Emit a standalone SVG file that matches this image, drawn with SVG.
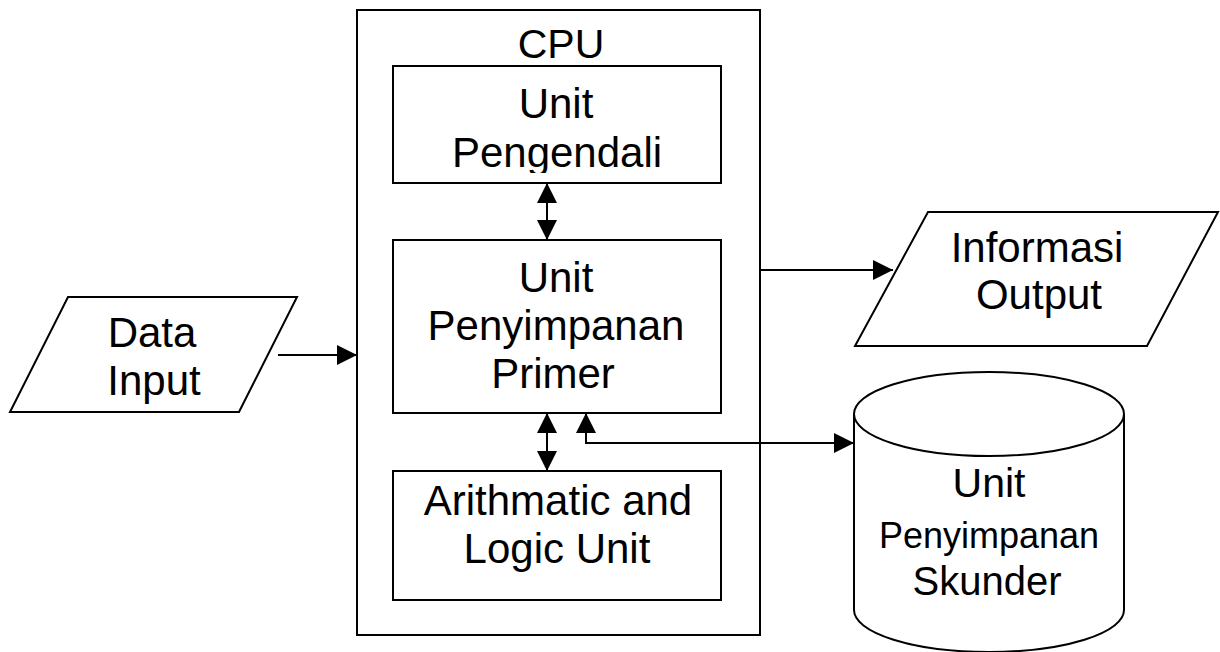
<svg xmlns="http://www.w3.org/2000/svg" width="1220" height="652" viewBox="0 0 1220 652">
<style>
.s{fill:#fff;stroke:#000;stroke-width:2}
.t{font-family:"Liberation Sans",Arial,sans-serif;font-size:42px;fill:#000;text-anchor:middle}
.c{fill:none;stroke:#000;stroke-width:2}
</style>
<defs>
<marker id="b" viewBox="0 0 20 20" refX="20" refY="10" markerWidth="20" markerHeight="20" markerUnits="userSpaceOnUse" orient="auto-start-reverse"><path d="M0,0 L20,10 L0,20 z" fill="#000"/></marker>
<clipPath id="pc"><rect x="393" y="66" width="328" height="107"/></clipPath>
</defs>
<g id="cpu"><rect class="s" x="357" y="10" width="403" height="625"/><text class="t" x="561" y="58" style="font-size:41px">CPU</text></g>
<g id="pengendali"><rect class="s" x="393" y="66" width="328" height="117"/><text class="t" x="556" y="118">Unit</text><text class="t" x="557" y="167" clip-path="url(#pc)">Pengendali</text></g>
<g id="primer"><rect class="s" x="393" y="240" width="328" height="173"/><text class="t" x="556" y="292">Unit</text><text class="t" x="556" y="340">Penyimpanan</text><text class="t" x="553" y="388">Primer</text></g>
<g id="alu"><rect class="s" x="393" y="471" width="328" height="129"/><text class="t" x="558" y="515">Arithmatic and</text><text class="t" x="557" y="563">Logic Unit</text></g>
<g id="input"><polygon class="s" points="68,297 297,297 239,412 10,412"/><text class="t" x="152" y="347">Data</text><text class="t" x="154" y="395">Input</text></g>
<g id="output"><polygon class="s" points="928,212 1218,212 1147,346 855,346"/><text class="t" x="1037" y="262">Informasi</text><text class="t" x="1039" y="309">Output</text></g>
<g id="skunder"><path class="s" d="M854,414 L854,610 A135,42 0 0 0 1124,610 L1124,414"/><ellipse class="s" cx="989" cy="414" rx="135" ry="42"/><text class="t" x="989" y="497" style="font-size:41px">Unit</text><text class="t" x="989" y="548" style="font-size:36px">Penyimpanan</text><text class="t" x="987" y="595" style="font-size:40px">Skunder</text></g>
<g id="connectors">
<line class="c" x1="278" y1="355" x2="357" y2="355" marker-end="url(#b)"/>
<line class="c" x1="760" y1="270" x2="893" y2="270" marker-end="url(#b)"/>
<line class="c" x1="547" y1="183" x2="547" y2="240" marker-start="url(#b)" marker-end="url(#b)"/>
<line class="c" x1="547" y1="413" x2="547" y2="471" marker-start="url(#b)" marker-end="url(#b)"/>
<polyline class="c" points="586,413 586,443 854,443" marker-start="url(#b)" marker-end="url(#b)"/>
</g>
</svg>
